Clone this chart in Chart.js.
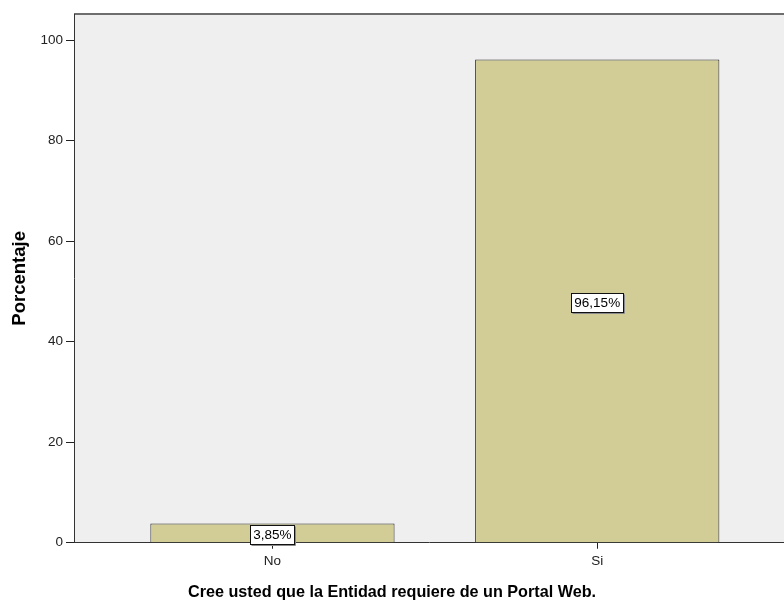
<!DOCTYPE html>
<html><head><meta charset="utf-8">
<script src="https://cdn.jsdelivr.net/npm/chart.js@4/dist/chart.umd.min.js"></script>
<style>html,body{margin:0;padding:0;background:#fff;overflow:hidden}#wrap{width:784px;height:602px}</style>
</head><body><div id="wrap"><canvas id="c" width="784" height="602"></canvas></div>
<script>
const categories = ['No', 'Si'];
const percentages = [3.85, 96.15];
const yTicks = [0, 20, 40, 60, 80, 100];
const xTitle = 'Cree usted que la Entidad requiere de un Portal Web.';
const yTitle = 'Porcentaje';

const FONT = "'Liberation Sans', Arial, sans-serif";

const plotBg = {
  id: 'plotBg',
  beforeDraw(chart) {
    const {ctx, chartArea: a} = chart;
    ctx.save();
    ctx.fillStyle = '#efefef';
    ctx.fillRect(a.left, a.top, a.right - a.left, a.bottom - a.top);
    ctx.strokeStyle = '#6e6e6e';
    ctx.lineWidth = 2;
    ctx.beginPath();
    ctx.moveTo(a.left, a.top);
    ctx.lineTo(a.right, a.top);
    ctx.stroke();
    ctx.restore();
  }
};

const barLabels = {
  id: 'barLabels',
  afterDatasetsDraw(chart) {
    const {ctx} = chart;
    const meta = chart.getDatasetMeta(0);
    ctx.save();
    ctx.font = "13.5px " + FONT;
    ctx.textAlign = 'center';
    ctx.textBaseline = 'middle';
    meta.data.forEach((bar, i) => {
      const txt = percentages[i].toFixed(2).replace('.', ',') + '%';
      const w = Math.round(ctx.measureText(txt).width) + 6;
      const h = 19;
      const cx = bar.x;
      const cy = (bar.y + bar.base) / 2 + 1.5;
      const x0 = Math.round(cx - w / 2) + 0.5;
      const y0 = Math.round(cy - h / 2) + 0.5;
      ctx.fillStyle = '#ffffff';
      ctx.fillRect(x0, y0, w, h);
      ctx.strokeStyle = '#8a8a8a';
      ctx.lineWidth = 1;
      ctx.beginPath();
      ctx.moveTo(x0 + w + 1, y0 + 1);
      ctx.lineTo(x0 + w + 1, y0 + h + 1);
      ctx.lineTo(x0 + 1, y0 + h + 1);
      ctx.stroke();
      ctx.strokeStyle = '#111';
      ctx.strokeRect(x0, y0, w, h);
      ctx.fillStyle = '#000';
      ctx.fillText(txt, cx, cy + 0.5);
    });
    ctx.restore();
  }
};

new Chart(document.getElementById('c'), {
  type: 'bar',
  data: {
    datasets: [{
      data: categories.map((c, i) => ({x: i, y: percentages[i]})),
      backgroundColor: '#d2cd96',
      borderColor: '#2a2a2a',
      borderWidth: 1,
      categoryPercentage: 1,
      barPercentage: 0.752
    }]
  },
  options: {
    responsive: false,
    animation: false,
    devicePixelRatio: 1,
    layout: {padding: {top: 14, right: 0, bottom: 0, left: 0}},
    plugins: {
      legend: {display: false},
      tooltip: {enabled: false},
      title: {
        display: true,
        position: 'bottom',
        text: xTitle,
        color: '#000',
        font: {family: FONT, size: 16.2, weight: 'bold', lineHeight: 1.2},
        padding: {top: 0, bottom: 0}
      }
    },
    scales: {
      x: {
        type: 'linear',
        offset: false,
        min: -0.611,
        max: 1.575,
        afterBuildTicks(scale) { scale.ticks = categories.map((c, i) => ({value: i})); },
        afterFit(scale) { scale.height = 39.8; },
        ticks: {
          callback: (v) => categories[v],
          color: '#222',
          font: {family: FONT, size: 13.5},
          padding: 4,
          maxRotation: 0,
          autoSkip: false
        },
        grid: {offset: false, drawOnChartArea: false, drawTicks: true, tickLength: 6, tickColor: '#222'},
        border: {color: '#333', width: 1}
      },
      y: {
        type: 'linear',
        min: 0,
        max: 105.2,
        afterBuildTicks(scale) { scale.ticks = yTicks.map(v => ({value: v})); },
        afterFit(scale) { scale.width = 74; },
        ticks: {
          color: '#222',
          font: {family: FONT, size: 13.5},
          padding: 3
        },
        grid: {drawOnChartArea: false, drawTicks: true, tickLength: 8, tickColor: '#222'},
        border: {color: '#333', width: 1},
        title: {
          display: true,
          text: yTitle,
          color: '#000',
          font: {family: FONT, size: 18.5, weight: 'bold'},
          padding: {top: 9, bottom: 0}
        }
      }
    }
  },
  plugins: [plotBg, barLabels]
});
</script></body></html>
